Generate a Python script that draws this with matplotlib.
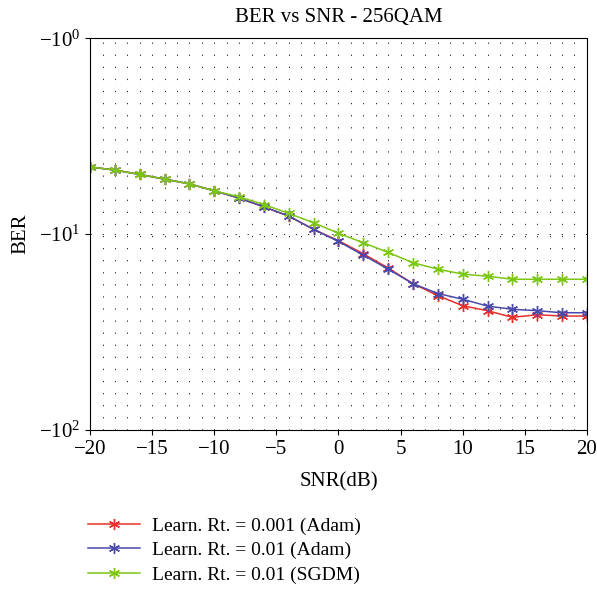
import numpy as np
import matplotlib
matplotlib.use("Agg")
import matplotlib.pyplot as plt

plt.rcParams['font.family'] = ['Liberation Serif', 'DejaVu Serif']
plt.rcParams['mathtext.fontset'] = 'stix'

# BER vs SNR for three training setups (BER axis is negative, log magnitude)
snr = [-20, -18, -16, -14, -12, -10, -8, -6, -4, -2, 0, 2, 4, 6, 8, 10, 12, 14, 16, 18, 20]
ber_adam_001 = [-4.54, -4.71, -4.96, -5.24, -5.54, -6.01, -6.55, -7.26, -8.09, -9.46, -10.8,
                -12.6, -14.9, -17.9, -20.6, -23.2, -24.6, -26.6, -25.8, -26.2, -26.2]
ber_adam_01 = [-4.54, -4.71, -4.96, -5.24, -5.54, -6.01, -6.55, -7.26, -8.09, -9.46, -10.9,
               -12.8, -15.1, -17.9, -20.1, -21.5, -23.3, -24.2, -24.6, -25.2, -25.2]
ber_sgdm_01 = [-4.54, -4.71, -4.96, -5.24, -5.54, -6.01, -6.45, -7.06, -7.84, -8.75, -9.9,
               -11.07, -12.4, -14.0, -15.1, -16.0, -16.4, -17.0, -17.0, -17.0, -17.0]
labels = ['Learn. Rt. = 0.001 (Adam)', 'Learn. Rt. = 0.01 (Adam)', 'Learn. Rt. = 0.01 (SGDM)']
colors = ['#e8302a', '#4a4aaa', '#7cc614']

fig = plt.figure(figsize=(5.97, 5.89), dpi=100)
ax = fig.add_axes([0.151, 0.270, 0.832, 0.665])

for y, lab, c in zip([ber_adam_001, ber_adam_01, ber_sgdm_01], labels, colors):
    ax.plot(snr, y, color=c, lw=1.1, marker=(6, 2, 0), ms=8, mew=1.0, label=lab)

ax.set_yscale('symlog', linthresh=0.1)
ax.set_ylim(-100, -1)
ax.set_xlim(-20, 20)
ax.set_xticks(np.arange(-20, 21, 5))
ax.set_xticks(np.arange(-20, 21, 1), minor=True)
ax.tick_params(axis='x', which='minor', length=0)
ax.tick_params(which='both', direction='out', labelsize=15)

ax.grid(True, which='both', color='black', linestyle=(0, (1.5, 13)), linewidth=0.6)

ax.set_title('BER vs SNR - 256QAM', fontsize=15, pad=12)
ax.set_xlabel('SNR(dB)', fontsize=15, labelpad=10)
ax.set_ylabel('BER', fontsize=15, labelpad=6)

ax.legend(loc='upper left', bbox_to_anchor=(-0.04, -0.178), frameon=False,
          fontsize=14, handlelength=2.7, handletextpad=0.6, labelspacing=0.35)

fig.savefig('out.png', dpi=100)
